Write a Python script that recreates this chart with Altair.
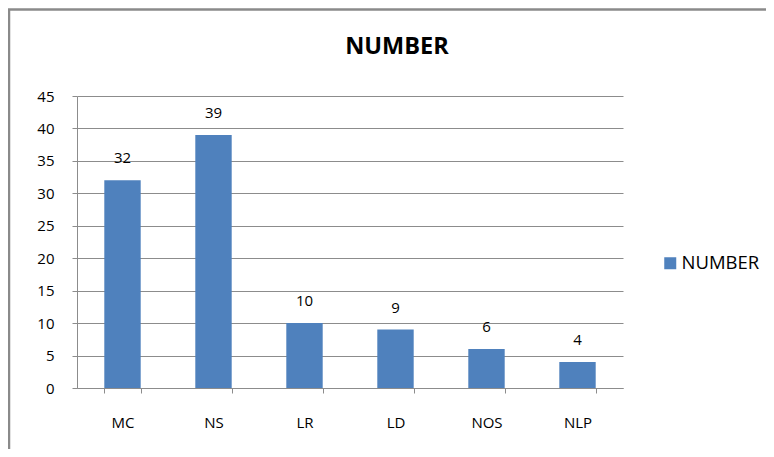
import altair as alt
import pandas as pd

categories = ["MC", "NS", "LR", "LD", "NOS", "NLP"]
values = [32, 39, 10, 9, 6, 4]
series = ["NUMBER"] * len(categories)
y_ticks = [0, 5, 10, 15, 20, 25, 30, 35, 40, 45]

df = pd.DataFrame({"cat": categories, "value": values, "series": series})
one = pd.DataFrame({"a": [0]})

FONT = "Open Sans"
GRID = "#8c8c8c"
BLUE = "#4F81BD"
W, H = 546, 292

x = alt.X(
    "cat:N", sort=categories, title=None,
    scale=alt.Scale(paddingInner=0.6, paddingOuter=0.3),
    axis=alt.Axis(labelAngle=0, labelFontSize=15, labelFont=FONT, labelColor="#000",
                  labelPadding=34, labelBaseline="alphabetic", tickSize=5,
                  tickColor=GRID, domainColor=GRID, tickBand="extent", grid=False),
)
y = alt.Y(
    "value:Q", title=None, scale=alt.Scale(domain=[0, 45]),
    axis=alt.Axis(values=y_ticks, grid=True, gridColor=GRID, tickSize=5, tickColor=GRID,
                  domainColor=GRID, labelPadding=18, labelFontSize=15, labelFont=FONT,
                  labelColor="#000"),
)

bars = alt.Chart(df).mark_bar().encode(
    x=x, y=y,
    color=alt.Color("series:N", scale=alt.Scale(range=[BLUE]),
                    legend=alt.Legend(title=None, orient="none", legendX=584, legendY=158,
                                      symbolType="square", symbolSize=144, labelFontSize=18.5,
                                      labelFont=FONT, labelColor="#000", symbolStrokeWidth=0,
                                      padding=0, labelOffset=2)),
)

labels = alt.Chart(df).mark_text(dy=-17, baseline="alphabetic", fontSize=15, font=FONT,
                                 color="#000").encode(x=x, y=y, text="value:Q")

left_border = alt.Chart(one).mark_rule(color="#8a8a8a", strokeWidth=2.5).encode(
    x=alt.value(-68), y=alt.value(-86.5), y2=alt.value(H + 70))
top_border = alt.Chart(one).mark_rule(color="#8a8a8a", strokeWidth=2.5).encode(
    x=alt.value(-69), x2=alt.value(W + 150), y=alt.value(-86.5))

chart = alt.layer(bars, labels, left_border, top_border).properties(
    width=W, height=H,
    title=alt.TitleParams("NUMBER", fontSize=23.5, font=FONT, fontWeight="bold", color="#000",
                          frame="group", anchor="middle", dx=47, offset=-68.75,
                          baseline="alphabetic"),
    padding={"left": 69, "top": 88, "right": 143, "bottom": 61},
    autosize="none",
).configure_view(stroke=None)

chart.save("out.html", embed_options={"renderer": "svg", "actions": False})
